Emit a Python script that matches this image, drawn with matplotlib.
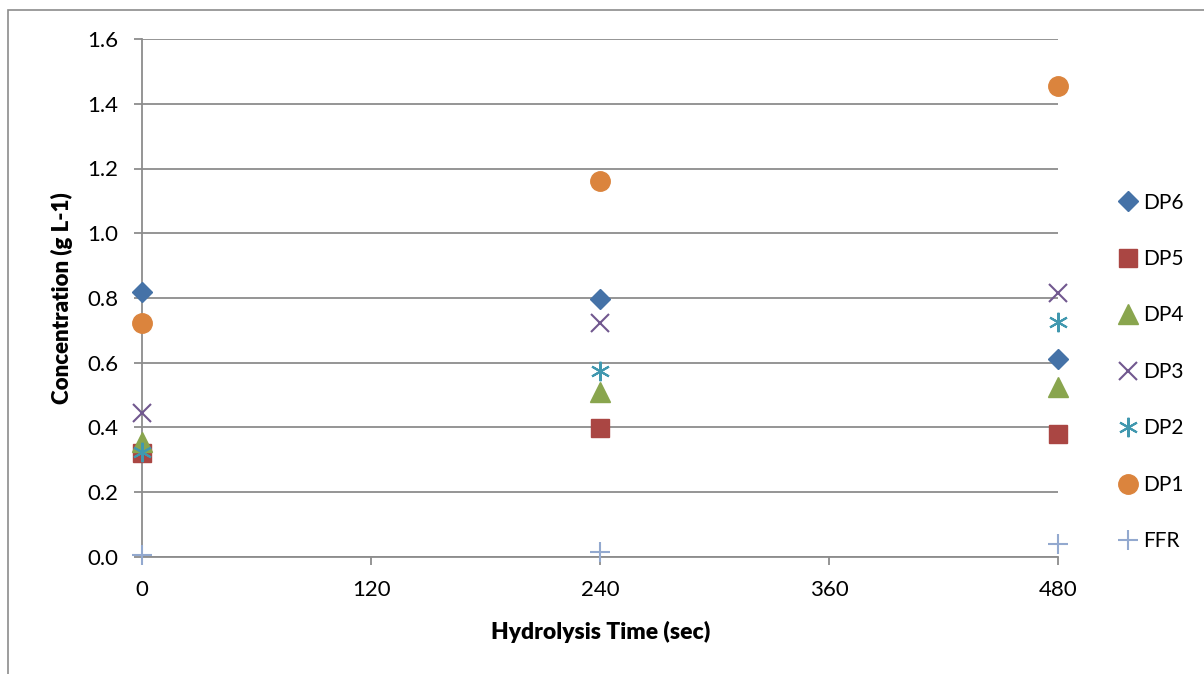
import matplotlib

matplotlib.use("Agg")
import matplotlib.pyplot as plt
from matplotlib.patches import Rectangle

# hydrolysis time points (sec)
times = [0, 240, 480]

series_names = ["DP6", "DP5", "DP4", "DP3", "DP2", "DP1", "FFR"]
dp6 = [0.818, 0.797, 0.612]
dp5 = [0.320, 0.398, 0.380]
dp4 = [0.355, 0.510, 0.525]
dp3 = [0.445, 0.723, 0.815]
dp2 = [0.325, 0.575, 0.726]
dp1 = [0.723, 1.161, 1.455]
ffr = [0.005, 0.016, 0.040]

x_ticks = [0, 120, 240, 360, 480]
y_ticks = [0.0, 0.2, 0.4, 0.6, 0.8, 1.0, 1.2, 1.4, 1.6]

styles = {
    "DP6": dict(marker="D", color="#4572A7", ms=10),
    "DP5": dict(marker="s", color="#AA4643", ms=13),
    "DP4": dict(marker="^", color="#89A54E", ms=14),
    "DP3": dict(marker="x", color="#71588F", ms=13, mew=1.5),
    "DP2": dict(marker=(6, 2, 0), color="#4198AF", ms=14, mew=1.5),
    "DP1": dict(marker="o", color="#DB843D", ms=14),
    "FFR": dict(marker="+", color="#93A9CF", ms=15, mew=1.5),
}

plt.rcParams["font.family"] = ["Lato", "DejaVu Sans"]

fig = plt.figure(figsize=(12.04, 6.74), dpi=100)
ax = fig.add_axes([0.118, 0.174, 0.761, 0.768])

# outer chart-area border (open at right and bottom, as cropped)
fig.patches.append(Rectangle((8 / 1204, -0.1), 1.2, (664 / 674) + 0.1,
                             transform=fig.transFigure, fill=False,
                             edgecolor="#8c8c8c", lw=1.2))

values = [dp6, dp5, dp4, dp3, dp2, dp1, ffr]
for name, ys in zip(series_names, values):
    st = styles[name]
    ax.plot(times, ys, linestyle="none", marker=st["marker"], color=st["color"],
            markersize=st["ms"], markeredgewidth=st.get("mew", 1.0),
            label=name, clip_on=False, zorder=3)

ax.set_xlim(0, 480)
ax.set_ylim(0, 1.6)
ax.set_xticks(x_ticks)
ax.set_yticks(y_ticks)
ax.set_yticklabels([f"{v:.1f}" for v in y_ticks])
ax.grid(axis="y", color="#8c8c8c", lw=1.3)
ax.set_axisbelow(True)
for side in ["top", "right"]:
    ax.spines[side].set_visible(False)
for side in ["left", "bottom"]:
    ax.spines[side].set_color("#8c8c8c")
    ax.spines[side].set_linewidth(1.3)
ax.tick_params(axis="both", colors="#8c8c8c", length=6, width=1.3,
               labelcolor="black", labelsize=16)
ax.tick_params(axis="y", pad=11)
ax.tick_params(axis="x", pad=11)

ax.set_xlabel("Hydrolysis Time (sec)", fontsize=16.5, fontweight="heavy", labelpad=15)
ax.set_ylabel("Concentration (g L-1)", fontsize=16, fontweight="heavy", labelpad=10)

ax.legend(loc="center left", bbox_to_anchor=(1.042, 0.357), frameon=False,
          fontsize=15, handletextpad=0.1, labelspacing=1.75, handlelength=1.2)

fig.savefig("out.png", dpi=100)
